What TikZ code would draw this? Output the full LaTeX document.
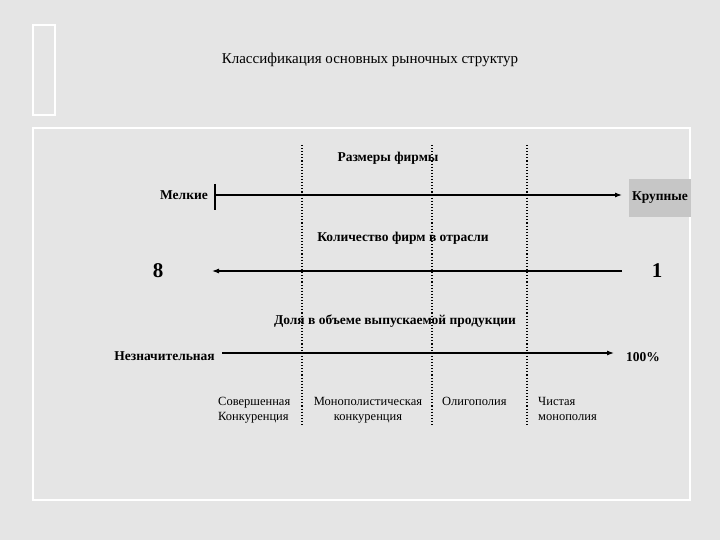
\documentclass[tikz,border=0pt]{standalone}
\usepackage{fontspec}
\usetikzlibrary{arrows.meta}
\setmainfont{Liberation Serif}
\begin{document}
\begin{tikzpicture}[x=1pt,y=-1pt,
  lbl/.style={font=\bfseries\fontsize{13.5}{15}\selectfont, inner sep=1pt},
  big/.style={font=\bfseries\fontsize{21}{23}\selectfont, inner sep=1pt},
  small/.style={font=\fontsize{12.5}{15}\selectfont, align=left, inner sep=1pt},
  axis/.style={line width=1.1pt,-{Latex[length=7pt,width=5pt]}},
  sep/.style={line width=1.1pt,dotted}]
\fill[gray!20] (0,0) rectangle (720,540);
\useasboundingbox (0,0) rectangle (720,540);
\draw[white,line width=1.5pt] (33,25) rectangle (55,115);
\draw[white,line width=1.5pt] (33,128) rectangle (690,500);
\node (title) at (370,60) {\fontsize{15}{17}\selectfont Классификация основных рыночных структур};
\coordinate (d1t) at (302,145); \coordinate (d1b) at (302,425);
\coordinate (d2t) at (432,145); \coordinate (d2b) at (432,425);
\coordinate (d3t) at (527,145); \coordinate (d3b) at (527,425);
\draw[sep] (d1t)--(d1b); \draw[sep] (d2t)--(d2b); \draw[sep] (d3t)--(d3b);
\node[lbl] (size) at (388,158) {Размеры фирмы};
\node[lbl,anchor=east] (small1) at (209,195) {Мелкие};
\coordinate (t1) at (215,184); \coordinate (t2) at (215,210);
\draw[line width=1.1pt] (t1)--(t2);
\coordinate (a1s) at (215,195); \coordinate (a1e) at (622,195);
\draw[axis] (a1s)--(a1e);
\node[fill=gray!45,minimum width=62,minimum height=38,lbl] (big1) at (660,198) {Крупные};
\node[lbl] (cnt) at (403,238) {Количество фирм в отрасли};
\node[big] (inf) at (158,271) {8};
\node[big] (one) at (657,271) {1};
\coordinate (a2s) at (622,271); \coordinate (a2e) at (212,271);
\draw[axis] (a2s)--(a2e);
\node[lbl] (share) at (395,321) {Доля в объеме выпускаемой продукции};
\node[lbl,anchor=east] (low) at (216,356) {Незначительная};
\coordinate (a3s) at (222,353); \coordinate (a3e) at (614,353);
\draw[axis] (a3s)--(a3e);
\node[lbl] (full) at (643,357) {100\%};
\node[small,anchor=north west] (m1) at (217,396) {Совершенная\\Конкуренция};
\node[small,anchor=north,align=center] (m2) at (368,396) {Монополистическая\\конкуренция};
\node[small,anchor=north west] (m3) at (441,396) {Олигополия};
\node[small,anchor=north west] (m4) at (537,396) {Чистая\\монополия};
\end{tikzpicture}
\end{document}
